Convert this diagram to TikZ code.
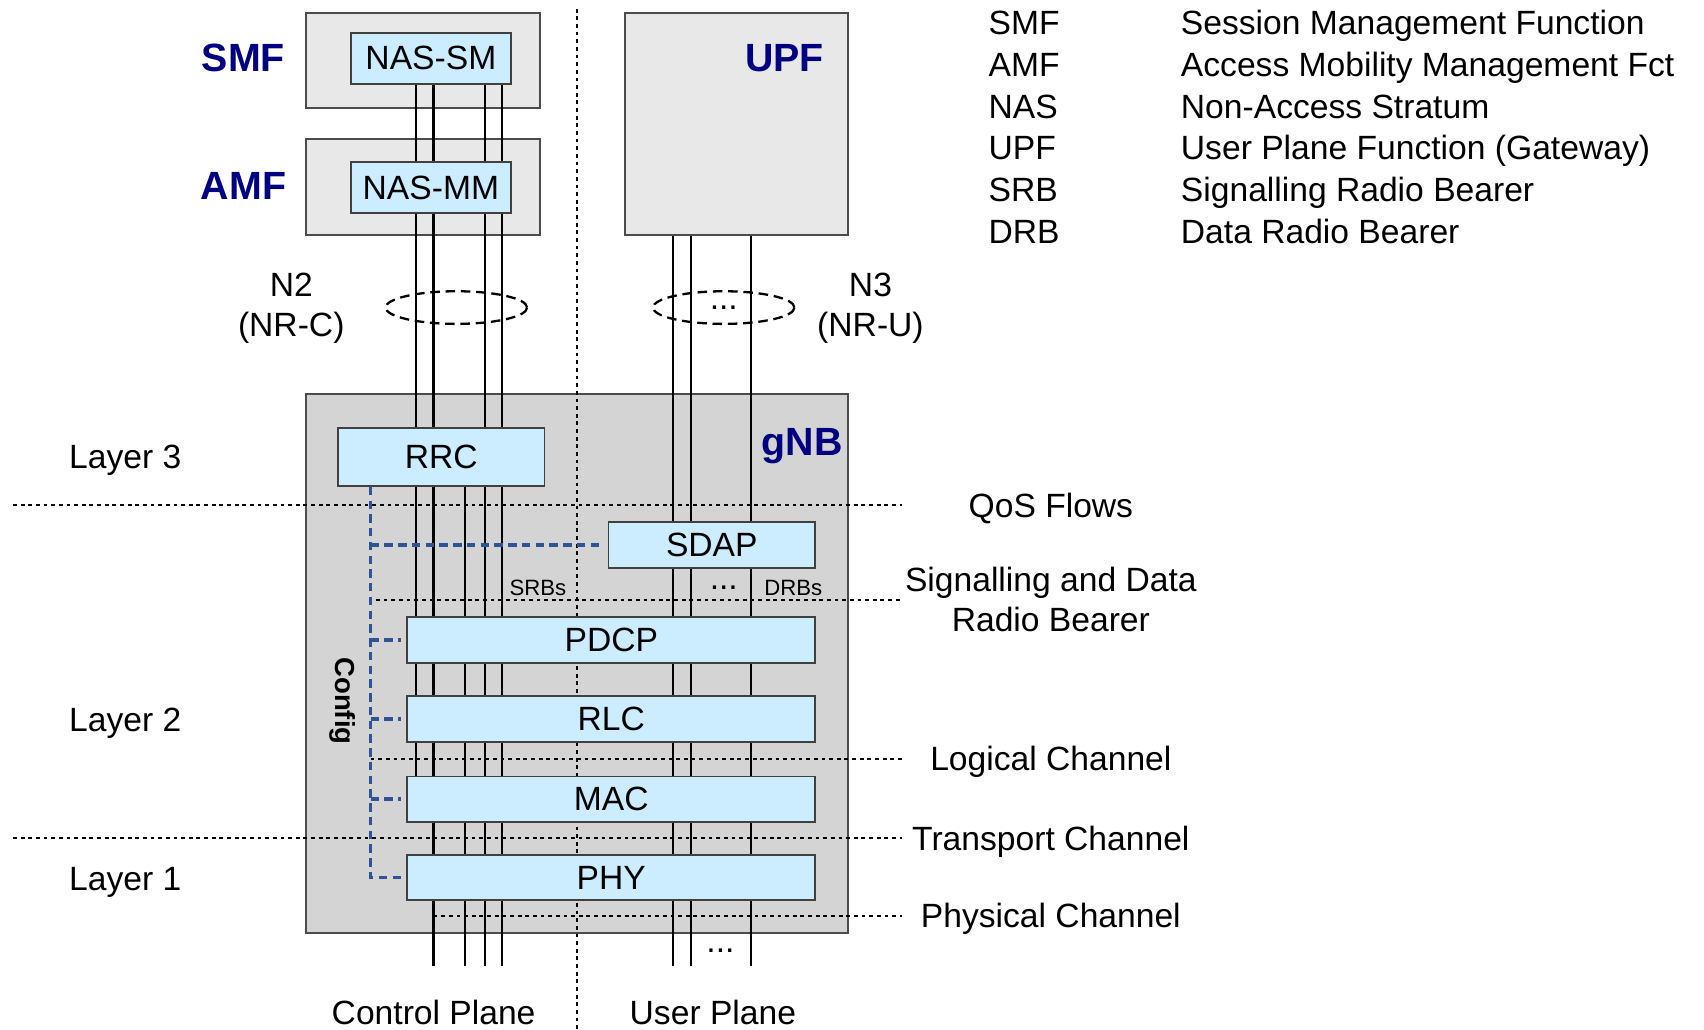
\documentclass[tikz,border=0pt]{standalone}
\usepackage{fontspec}
\setmainfont{Liberation Sans}
\usetikzlibrary{shapes.geometric}
\definecolor{lyrblue}{RGB}{204,236,255}
\definecolor{fngrey}{RGB}{232,232,232}
\definecolor{gnbgrey}{RGB}{212,212,212}
\definecolor{navy}{RGB}{0,0,128}
\definecolor{cfgblue}{RGB}{47,84,150}
\pgfdeclarelayer{back}
\pgfdeclarelayer{mid}
\pgfsetlayers{back,mid,main}

\begin{document}
\begin{tikzpicture}[x=0.01cm, y=-0.01cm, every node/.style={font=\fontsize{8.8}{10.6}\selectfont, inner sep=0pt}, fn/.style={draw=black!70, fill=fngrey, line width=0.5pt}, lyr/.style={draw=black!75, fill=lyrblue, line width=0.5pt}, big/.style={font=\fontsize{10.3}{12}\selectfont\bfseries, text=navy}, sep/.style={line width=0.5pt, dash pattern=on 1pt off 1pt}, ch/.style={line width=0.6pt}, ring/.style={draw, ellipse, line width=0.6pt, dash pattern=on 2.5pt off 1.5pt, minimum width=1.3cm, minimum height=0.3cm}, cfg/.style={cfgblue, line width=1pt, dash pattern=on 2.2pt off 1.4pt}]
	\useasboundingbox (0,0) rectangle (1568,947);
	\begin{pgfonlayer}{back}
		\node[fn, minimum width=2.15cm, minimum height=0.87cm] (smf) at (389.5,55.5) {};
		\node[fn, minimum width=2.15cm, minimum height=0.88cm] (amf) at (389.5,172) {};
		\node[fn, minimum width=2.05cm, minimum height=2.04cm] (upf) at (677.5,114) {};
		\node[draw=black!70, fill=gnbgrey, line width=0.5pt, minimum width=4.98cm, minimum height=4.95cm] (gnb) at (531,610.5) {};
	\end{pgfonlayer}
	\node[lyr, minimum width=1.47cm, minimum height=0.47cm] (nassm) at (396.5,53.5) {NAS-SM};
	\node[lyr, minimum width=1.47cm, minimum height=0.47cm] (nasmm) at (396.5,172.5) {NAS-MM};
	\node[lyr, minimum width=1.9cm, minimum height=0.53cm] (rrc) at (406,420.5) {RRC};
	\node[lyr, minimum width=1.9cm, minimum height=0.43cm] (sdap) at (655,501.5) {SDAP};
	\foreach \n/\t/\y in {pdcp/PDCP/589, rlc/RLC/661.5, mac/MAC/735.5, phy/PHY/807.5} {\node[lyr, minimum width=3.75cm, minimum height=0.42cm] (\n) at (562.5,\y) {\t};}
	\node[big, anchor=base] (smflbl) at (224,66) {SMF};
	\node[big, anchor=base] (amflbl) at (224,184) {AMF};
	\node[big, anchor=base] (upflbl) at (722,66) {UPF};
	\node[big, anchor=base] (gnblbl) at (738,419) {gNB};
	\node[align=center] (n2) at (268,283.5) {N2\\(NR-C)};
	\node[align=center] (n3) at (801,283.5) {N3\\(NR-U)};
	\node[ring] (n2ring) at (420,283) {};
	\node[ring] (n3ring) at (666,283) {...};
	% bearers
	\foreach \n/\x in {c1/383, c2/399, c3/428, c4/446, c5/462, u1/619, u2/636, u3/691} {\coordinate (\n) at (\x,889);}
	\begin{pgfonlayer}{mid}
		\foreach \n in {c2,c4,c5} {\draw[ch] (nassm.south -| \n) -- (\n);}
		\draw[ch] (nassm.south -| c1) -- (mac.north -| c1);
		\draw[ch] (rrc.south -| c3) -- (c3);
		\foreach \n in {u1,u2,u3} {\draw[ch] (upf.south -| \n) -- (\n);}
		\draw[sep] (12,465) -- (830,465);
		\draw[sep] (346,552) -- (830,552);
		\draw[sep] (341,698) -- (830,698);
		\draw[sep] (12,771) -- (830,771);
		\draw[sep] (399,843) -- (830,843);
		\draw[sep] (531,8) -- (531,947);
	\end{pgfonlayer}
	\node[font=\fontsize{5.8}{7}\selectfont] (srbs) at (495,541) {SRBs};
	\node[font=\fontsize{5.8}{7}\selectfont] (drbs) at (730,541) {DRBs};
	\node (drbdots) at (666,541) {...};
	\node (bdots) at (663,875) {...};
	% config
	\coordinate (cfgx) at (341,0);
	\draw[cfg] (rrc.south -| cfgx) |- ([xshift=-1.5pt]phy.west);
	\foreach \n in {sdap,pdcp,rlc,mac} {\draw[cfg] (\n.west -| cfgx) -- ([xshift=-1.5pt]\n.west);}
	\node[rotate=-90, font=\fontsize{7.2}{9}\selectfont\bfseries] (cfglbl) at (315,645) {Config};
	% layers and channels
	\foreach \t/\y in {Layer 3/431, Layer 2/673, Layer 1/819} {\node[anchor=base west] at (63,\y) {\t};}
	\node[anchor=base] (qos) at (967,476) {QoS Flows};
	\node[align=center] (rb) at (967,551.5) {Signalling and Data\\Radio Bearer};
	\node[anchor=base] (logch) at (967,709) {Logical Channel};
	\node[anchor=base] (trch) at (967,783) {Transport Channel};
	\node[anchor=base] (phych) at (967,853) {Physical Channel};
	\node[anchor=base] (cplane) at (399,943) {Control Plane};
	\node[anchor=base] (uplane) at (656,943) {User Plane};
	% legend
	\foreach \a/\d [count=\i] in {SMF/Session Management Function, AMF/Access Mobility Management Fct, NAS/Non-Access Stratum, UPF/User Plane Function (Gateway), SRB/Signalling Radio Bearer, DRB/Data Radio Bearer} {
		\node[anchor=base west] (ab\i) at (909,{32+38.4*(\i-1)}) {\a};
		\node[anchor=base west] (de\i) at (1086,{32+38.4*(\i-1)}) {\d};
	}
\end{tikzpicture}
\end{document}
